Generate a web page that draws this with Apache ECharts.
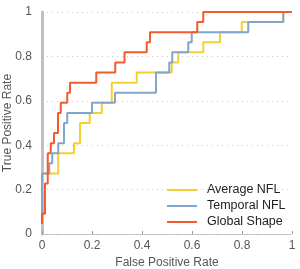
<!DOCTYPE html>
<html><head><meta charset="utf-8">
<script src="https://cdn.jsdelivr.net/npm/echarts@6/dist/echarts.min.js"></script>
<style>html,body{margin:0;padding:0;background:#fff}#c{width:300px;height:269px}</style>
</head><body><div id="c"></div>
<script>
var N = 22;
var seriesNames = ['Average NFL', 'Temporal NFL', 'Global Shape'];
var xTicks = [0, 0.2, 0.4, 0.6, 0.8, 1];
// Average NFL: start point then steps (fpr where tpr jumps, new tpr count / 22)
var avgStart = [0.004, 4];
var avgFpr = [0.004, 0.065, 0.128, 0.152, 0.191, 0.239, 0.279, 0.379, 0.519, 0.545, 0.645, 0.712, 0.799, 0.965];
var avgTpr = [6, 8, 9, 11, 12, 13, 15, 16, 17, 18, 19, 20, 21, 22];
// Temporal NFL
var tmpStart = [0, 2];
var tmpFpr = [0, 0.029, 0.041, 0.065, 0.088, 0.101, 0.2, 0.292, 0.456, 0.509, 0.521, 0.585, 0.599, 0.825, 0.965];
var tmpTpr = [6, 7, 8, 9, 11, 12, 13, 14, 16, 17, 18, 19, 20, 21, 22];
// Global Shape
var glbStart = [0, 1];
var glbFpr = [0, 0.012, 0.023, 0.035, 0.048, 0.064, 0.075, 0.101, 0.112, 0.217, 0.293, 0.33, 0.419, 0.432, 0.621, 0.645];
var glbTpr = [2, 5, 8, 9, 10, 12, 13, 14, 15, 16, 17, 18, 19, 20, 21, 22];

function stairs(start, fpr, tpr) {
  var pts = [[start[0], start[1] / N]];
  var prev = start[1] / N;
  for (var i = 0; i < fpr.length; i++) {
    pts.push([fpr[i], prev]);
    prev = tpr[i] / N;
    pts.push([fpr[i], prev]);
  }
  pts.push([1, prev]);
  return pts;
}
var colors = ['#F3D032', '#82A5CC', '#F45A2B'];
var data = [stairs(avgStart, avgFpr, avgTpr), stairs(tmpStart, tmpFpr, tmpTpr), stairs(glbStart, glbFpr, glbTpr)];
var FONT = 'Liberation Sans, Arial, sans-serif';

var chart = echarts.init(document.getElementById('c'));
chart.setOption({
  animation: false,
  grid: {left: 42, right: 8, top: 12, bottom: 35, containLabel: false, outerBoundsMode: 'none'},
  legend: {
    orient: 'vertical', left: 162, top: 177, itemGap: 0,
    itemWidth: 30, itemHeight: 2, icon: 'rect',
    textStyle: {fontSize: 12.5, color: '#222', lineHeight: 16, padding: [0, 0, 0, 5], fontFamily: FONT},
    data: seriesNames
  },
  xAxis: {
    type: 'value', min: 0, max: 1, interval: 0.2,
    name: 'False Positive Rate', nameLocation: 'middle', nameGap: 22,
    nameTextStyle: {fontSize: 12, color: '#555', fontFamily: FONT},
    axisLine: {show: true, lineStyle: {color: '#bbb', type: 'dotted', width: 1}},
    axisTick: {show: true, inside: true, length: 3, lineStyle: {color: '#999'}},
    axisLabel: {fontSize: 12, color: '#555', margin: 6, fontFamily: FONT,
      formatter: function (v) { return xTicks.indexOf(v) >= 0 ? String(v) : ''; }},
    splitLine: {show: false}
  },
  yAxis: {
    type: 'value', min: 0, max: 1, interval: 0.2,
    name: 'True Positive Rate', nameLocation: 'middle', nameGap: 28, nameMoveOverlap: false,
    nameTextStyle: {fontSize: 12, color: '#555', fontFamily: FONT},
    axisLine: {show: true, lineStyle: {color: '#c0c0c0', width: 3}},
    axisTick: {show: false},
    axisLabel: {fontSize: 12, color: '#555', margin: 10, fontFamily: FONT},
    splitLine: {show: true, lineStyle: {color: '#c8c8c8', type: [1, 4], width: 1}}
  },
  series: seriesNames.map(function (n, i) {
    return {
      name: n, type: 'line', data: data[i], showSymbol: false, symbol: 'none',
      lineStyle: {color: colors[i], width: 2}, itemStyle: {color: colors[i]}
    };
  })
});
</script></body></html>
